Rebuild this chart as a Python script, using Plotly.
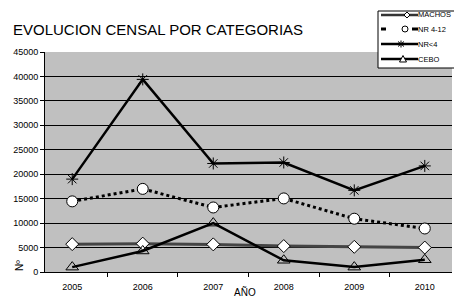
import plotly.graph_objects as go

years = ["2005", "2006", "2007", "2008", "2009", "2010"]
machos = [5700, 5800, 5650, 5300, 5150, 5000]
nr_4_12 = [14450, 17000, 13200, 15050, 10900, 8900]
nr_lt4 = [19000, 39400, 22200, 22400, 16700, 21700]
cebo = [1000, 4300, 10000, 2400, 1000, 2500]
series_names = ["MACHOS", "NR 4-12", "NR<4", "CEBO"]

styles = [
    dict(line=dict(color="#444444", width=3),
         marker=dict(symbol="diamond", size=10, color="white", line=dict(color="black", width=1))),
    dict(line=dict(color="black", width=3, dash="dot"),
         marker=dict(symbol="circle", size=11, color="white", line=dict(color="black", width=1))),
    dict(line=dict(color="black", width=2.5),
         marker=dict(symbol="asterisk-open", size=10, line=dict(color="black", width=1))),
    dict(line=dict(color="black", width=2.5),
         marker=dict(symbol="triangle-up-open", size=11, line=dict(color="black", width=1))),
]

fig = go.Figure()
for name, vals, st in zip(series_names, [machos, nr_4_12, nr_lt4, cebo], styles):
    fig.add_trace(go.Scatter(x=years, y=vals, name=name, mode="lines+markers",
                             showlegend=False, **st))

# Layout geometry (pixels)
L, T, R, B = 45, 52, 452, 272


def px(x):
    return (x - L) / (R - L)


def py(y):
    return (B - y) / (B - T)


# Manual legend drawn in paper coordinates
leg_rows = [15, 29, 44, 59]
leg_marker_x = [407, 405, 401, 403]
ln = dict(color="black", width=1)
shapes = [dict(type="rect", xref="paper", yref="paper", x0=px(378), x1=px(455),
               y0=py(11), y1=py(68), fillcolor="white", line=ln, layer="above")]
annotations = []


def seg(x0, y0, x1, y1, color="black", width=1):
    shapes.append(dict(type="line", xref="paper", yref="paper", x0=px(x0), x1=px(x1),
                       y0=py(y0), y1=py(y1), line=dict(color=color, width=width),
                       layer="above"))


def poly(pts):
    d = "M " + " L ".join(f"{px(a):.5f},{py(b):.5f}" for a, b in pts) + " Z"
    shapes.append(dict(type="path", xref="paper", yref="paper", path=d,
                       fillcolor="white", line=ln, layer="above"))


for i, (name, yy, mx) in enumerate(zip(series_names, leg_rows, leg_marker_x)):
    if i == 1:
        seg(381, yy, 386, yy, width=3)
        seg(412, yy, 418, yy, width=3)
        shapes.append(dict(type="circle", xref="paper", yref="paper", x0=px(mx - 3),
                           x1=px(mx + 3), y0=py(yy - 3), y1=py(yy + 3),
                           fillcolor="white", line=ln, layer="above"))
    else:
        seg(381, yy, 418, yy, color="#333333" if i == 0 else "black", width=2.5)
        if i == 0:
            poly([(mx - 3, yy), (mx, yy - 3), (mx + 3, yy), (mx, yy + 3)])
        elif i == 2:
            seg(mx, yy - 3.5, mx, yy + 3.5)
            seg(mx - 3, yy - 2.5, mx + 3, yy + 2.5)
            seg(mx - 3, yy + 2.5, mx + 3, yy - 2.5)
        else:
            poly([(mx - 3.5, yy + 3), (mx, yy - 3.5), (mx + 3.5, yy + 3)])
    annotations.append(dict(text=name, xref="paper", yref="paper", x=px(417), y=py(yy),
                            xanchor="left", yanchor="middle", showarrow=False,
                            font=dict(size=7.5), borderpad=0))

annotations += [
    dict(text="EVOLUCION CENSAL POR CATEGORIAS", xref="paper", yref="paper",
         x=px(11), y=py(30), xanchor="left", yanchor="middle",
         showarrow=False, font=dict(size=15)),
    dict(text="AÑO", xref="paper", yref="paper", x=px(245), y=py(292),
         xanchor="center", yanchor="middle", showarrow=False, font=dict(size=10)),
    dict(text="Nº", xref="paper", yref="paper", x=px(19), y=py(266),
         xanchor="center", yanchor="middle", showarrow=False, textangle=-90,
         font=dict(size=10)),
]

fig.update_layout(
    width=454, height=297,
    margin=dict(l=L, r=454 - R, t=T, b=297 - B, autoexpand=False),
    paper_bgcolor="white", plot_bgcolor="#c0c0c0",
    font=dict(family="Liberation Sans, Arial", size=9, color="black"),
    showlegend=False,
    shapes=shapes,
    annotations=annotations,
    xaxis=dict(type="category", showline=True, linecolor="black", linewidth=1,
               ticks="outside", tickson="boundaries", ticklen=4, tickcolor="black",
               showgrid=False, tickfont=dict(size=9), ticklabelstandoff=6),
    yaxis=dict(range=[0, 45000], dtick=5000, showline=True, linecolor="black",
               linewidth=1, ticks="outside", ticklen=4, tickcolor="black",
               gridcolor="black", gridwidth=1, zeroline=False, tickfont=dict(size=9),
               tickformat="d"),
)

fig.write_html("out.html", config={"displayModeBar": False},
               post_script="document.body.style.margin='0';")
